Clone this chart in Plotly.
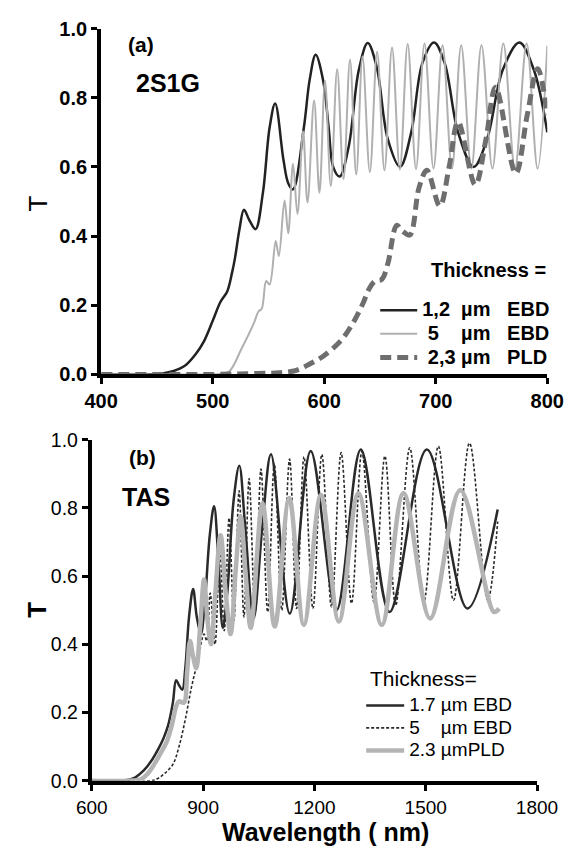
import plotly.graph_objects as go

# ---------------- Panel (a) 2S1G : wavelength (nm) / transmission ----------------
a_ebd12_wl = [400, 440, 455, 465, 475, 485, 492, 500, 507, 513, 517.4, 520, 524, 528, 533, 538.4, 545, 551, 556, 563.5,
              567.7, 572, 581.7, 587, 592.3, 599, 604, 608, 613.8, 622, 631, 639, 647, 657, 668, 678, 688, 698.5, 708, 720,
              734, 746, 760, 775, 788, 800]
a_ebd12_T = [0.0, 0.0, 0.003, 0.01, 0.025, 0.06, 0.095, 0.155, 0.21, 0.24, 0.295, 0.337, 0.42, 0.476, 0.445, 0.42, 0.525,
             0.713, 0.783, 0.619, 0.553, 0.535, 0.713, 0.853, 0.924, 0.85, 0.713, 0.60, 0.572, 0.66, 0.88, 0.958, 0.89, 0.68,
             0.60, 0.70, 0.90, 0.96, 0.90, 0.70, 0.60, 0.68, 0.88, 0.96, 0.88, 0.70]

a_ebd5_wl = [400, 480, 506, 514.6, 525.8, 537, 541, 544, 548, 551, 556.5, 559.3, 564.4, 567.7, 572, 576, 581, 585, 590.9,
             595.7, 600.7, 605.9, 611.6, 617.3, 623.1, 628.7, 634.3, 640.9, 647.4, 654, 660.8, 667.8, 674.8, 682.3, 689.9,
             698, 706.1, 714.5, 722.8, 731.9, 741, 750.8, 760.6, 771, 781.5, 791.3, 800]
a_ebd5_T = [0.0, 0.0, 0.001, 0.008, 0.074, 0.149, 0.182, 0.19, 0.27, 0.26, 0.386, 0.342, 0.503, 0.408, 0.609, 0.464, 0.703,
            0.497, 0.792, 0.525, 0.849, 0.545, 0.882, 0.565, 0.91, 0.578, 0.919, 0.585, 0.933, 0.59, 0.945, 0.592, 0.955,
            0.594, 0.957, 0.595, 0.952, 0.595, 0.952, 0.595, 0.952, 0.595, 0.957, 0.595, 0.957, 0.595, 0.95]

a_pld_wl = [400, 500, 540, 560, 575, 587, 600, 615.5, 626, 634, 640.7, 645.7, 651.6, 657, 665, 670, 676.7, 685, 692, 703.6,
            712, 720, 735.4, 745, 753.6, 771.7, 782, 791.4, 800]
a_pld_T = [0.0, 0.0, 0.003, 0.005, 0.012, 0.03, 0.055, 0.10, 0.15, 0.20, 0.25, 0.27, 0.275, 0.32, 0.431, 0.415, 0.403,
           0.54, 0.59, 0.487, 0.60, 0.73, 0.548, 0.68, 0.83, 0.581, 0.75, 0.884, 0.75]

# ---------------- Panel (b) TAS ----------------
b_ebd17_wl = [600, 700, 717.6, 740, 759.6, 780, 793, 805, 818.5, 827, 835, 843.8, 852, 862, 873, 883, 894, 905, 918, 929.5,
              941, 953, 965, 982, 997.5, 1013, 1036, 1060, 1083, 1133.6, 1190, 1259.7, 1325, 1402.5, 1503, 1612.6, 1694]
b_ebd17_T = [0.0, 0.003, 0.01, 0.03, 0.057, 0.095, 0.124, 0.16, 0.229, 0.295, 0.28, 0.267, 0.33, 0.48, 0.562, 0.48, 0.43,
             0.53, 0.72, 0.805, 0.65, 0.448, 0.55, 0.82, 0.924, 0.75, 0.475, 0.75, 0.957, 0.49, 0.967, 0.50, 0.971, 0.495,
             0.971, 0.505, 0.795]

b_ebd5_wl = [600, 760, 775, 795, 818.5, 835, 852, 869, 885.6, 902.5, 910, 919, 932, 945, 957, 970, 983, 997, 1010, 1024,
             1040, 1056, 1074, 1092, 1112, 1133, 1152, 1172, 1196, 1220, 1246, 1272, 1300, 1328, 1360.5, 1390, 1419, 1457,
             1495, 1534, 1575, 1618, 1667, 1694]
b_ebd5_T = [0.0, 0.0, 0.005, 0.02, 0.048, 0.10, 0.18, 0.276, 0.352, 0.43, 0.41, 0.55, 0.40, 0.68, 0.44, 0.77, 0.47, 0.85,
            0.48, 0.886, 0.49, 0.914, 0.495, 0.93, 0.50, 0.943, 0.505, 0.95, 0.505, 0.957, 0.51, 0.962, 0.52, 0.965, 0.524,
            0.952, 0.514, 0.976, 0.524, 0.981, 0.529, 0.99, 0.529, 0.76]

b_pld_wl = [600, 700, 734, 750, 768, 785, 801.7, 815, 828, 835, 848, 857, 864.7, 872, 881.5, 892, 902.5, 911, 921, 933, 947,
            961, 974, 988, 1001, 1015, 1028.6, 1060, 1093, 1132, 1171.5, 1217.6, 1266, 1318.5, 1381.5, 1440, 1511.8, 1593,
            1684, 1698]
b_pld_T = [0.0, 0.0, 0.005, 0.02, 0.048, 0.08, 0.114, 0.16, 0.22, 0.233, 0.229, 0.32, 0.41, 0.37, 0.33, 0.45, 0.59, 0.48,
           0.40, 0.55, 0.72, 0.55, 0.43, 0.62, 0.775, 0.6, 0.448, 0.814, 0.452, 0.829, 0.457, 0.838, 0.467, 0.843, 0.457,
           0.843, 0.476, 0.852, 0.495, 0.505]

y_ticks = [0.0, 0.2, 0.4, 0.6, 0.8, 1.0]
a_x_ticks = [400, 500, 600, 700, 800]
b_x_ticks = [600, 900, 1200, 1500, 1800]

a_names = ["<span style='font-size:20px'><b>1,2\u00a0\u00a0µm\u00a0\u00a0\u00a0EBD</b></span>",
           "<span style='font-size:20px'><b>\u00a05\u00a0\u00a0\u00a0\u00a0µm\u00a0\u00a0\u00a0EBD</b></span>",
           "<span style='font-size:20px'><b>\u00a02,3\u00a0µm\u00a0\u00a0\u00a0PLD</b></span>"]
b_names = ["<span style='font-size:19px'>1.7 µm EBD</span>",
           "<span style='font-size:19px'>5\u00a0\u00a0\u00a0\u00a0µm EBD</span>",
           "<span style='font-size:19px'>2.3 µmPLD</span>"]

FONT = "Arial, Liberation Sans, sans-serif"
W, H = 587, 857


def px(x):
    return x / W


def py(y):
    return 1 - y / H


fig = go.Figure()

fig.add_trace(go.Scatter(x=a_ebd12_wl, y=a_ebd12_T, mode="lines", name=a_names[0], legend="legend",
                         line=dict(color="#222222", width=2.5, shape="spline", smoothing=1.0)))
fig.add_trace(go.Scatter(x=a_ebd5_wl, y=a_ebd5_T, mode="lines", name=a_names[1], legend="legend",
                         line=dict(color="#b0b0b0", width=2, shape="spline", smoothing=1.0)))
fig.add_trace(go.Scatter(x=a_pld_wl, y=a_pld_T, mode="lines", name=a_names[2], legend="legend",
                         line=dict(color="#6e6e6e", width=5, dash="11px,6px", shape="spline", smoothing=1.0)))

fig.add_trace(go.Scatter(x=b_ebd17_wl, y=b_ebd17_T, mode="lines", name=b_names[0], legend="legend2",
                         xaxis="x2", yaxis="y2",
                         line=dict(color="#2a2a2a", width=2.5, shape="spline", smoothing=1.0)))
fig.add_trace(go.Scatter(x=b_ebd5_wl, y=b_ebd5_T, mode="lines", name=b_names[1], legend="legend2",
                         xaxis="x2", yaxis="y2",
                         line=dict(color="#2a2a2a", width=1.6, dash="3px,2px", shape="spline", smoothing=1.0)))
fig.add_trace(go.Scatter(x=b_pld_wl, y=b_pld_T, mode="lines", name=b_names[2], legend="legend2",
                         xaxis="x2", yaxis="y2",
                         line=dict(color="#b4b4b4", width=4.5, shape="spline", smoothing=1.0)))

axis_common = dict(showgrid=False, zeroline=False, showline=True, linecolor="black", linewidth=4,
                   ticks="outside", ticklen=6, tickwidth=3, tickcolor="black")

fig.update_layout(
    width=W, height=H,
    margin=dict(l=0, r=0, t=0, b=0),
    paper_bgcolor="white", plot_bgcolor="white",
    font=dict(family=FONT, color="black"),
    xaxis=dict(domain=[px(90), px(567)], range=[400, 800], tickvals=a_x_ticks, anchor="y",
               tickfont=dict(size=20, weight="bold", family=FONT), **axis_common),
    yaxis=dict(domain=[py(373), py(18)], range=[0, 1.0], tickvals=y_ticks, tickformat=".1f", anchor="x",
               tickfont=dict(size=20, weight="bold", family=FONT), **axis_common),
    xaxis2=dict(domain=[px(80), px(556)], range=[600, 1800], tickvals=b_x_ticks, anchor="y2",
                tickfont=dict(size=19, family=FONT), **axis_common),
    yaxis2=dict(domain=[py(790), py(440)], range=[0, 1.0], tickvals=y_ticks, tickformat=".1f", anchor="x2",
                tickfont=dict(size=19.5, family=FONT), **axis_common),
    legend=dict(x=px(383), y=py(290), xanchor="left", yanchor="top", bgcolor="rgba(0,0,0,0)",
                font=dict(size=15.8, family=FONT), itemwidth=37, tracegroupgap=0),
    legend2=dict(x=px(368), y=py(696), xanchor="left", yanchor="top", bgcolor="rgba(0,0,0,0)",
                 font=dict(size=15, family=FONT), itemwidth=38, tracegroupgap=0),
    showlegend=True,
)

ann = [
    dict(text="<b>(a)</b>", x=px(133), y=py(34), size=21),
    dict(text="<b>2S1G</b>", x=px(161), y=py(74), size=25),
    dict(text="<b>(b)</b>", x=px(134), y=py(458), size=21),
    dict(text="<b>TAS</b>", x=px(138), y=py(499), size=25),
]
for a in ann:
    fig.add_annotation(text=a["text"], x=a["x"], y=a["y"], xref="paper", yref="paper", showarrow=False,
                       xanchor="center", yanchor="middle", font=dict(size=a["size"], family=FONT, color="black"))

fig.add_annotation(text="<b>Thickness =</b>", x=px(441), y=py(266), xref="paper", yref="paper", showarrow=False,
                   xanchor="left", yanchor="middle", font=dict(size=20, family=FONT, color="black"))
fig.add_annotation(text="Thickness=", x=px(375), y=py(685), xref="paper", yref="paper", showarrow=False,
                   xanchor="left", yanchor="middle", font=dict(size=21, family=FONT, color="black"))
fig.add_annotation(text="T", x=px(22), y=py(198), xref="paper", yref="paper", showarrow=False, textangle=-90,
                   xanchor="center", yanchor="middle", font=dict(size=26, family=FONT, color="black"))
fig.add_annotation(text="<b>T</b>", x=px(22), y=py(615), xref="paper", yref="paper", showarrow=False, textangle=-90,
                   xanchor="center", yanchor="middle", font=dict(size=26, family=FONT, color="black"))
fig.add_annotation(text="<b>Wavelength ( nm)</b>", x=px(330), y=py(843), xref="paper", yref="paper", showarrow=False,
                   xanchor="center", yanchor="middle", borderpad=0, font=dict(size=25, family=FONT, color="black"))

fig.write_html("out.html")
